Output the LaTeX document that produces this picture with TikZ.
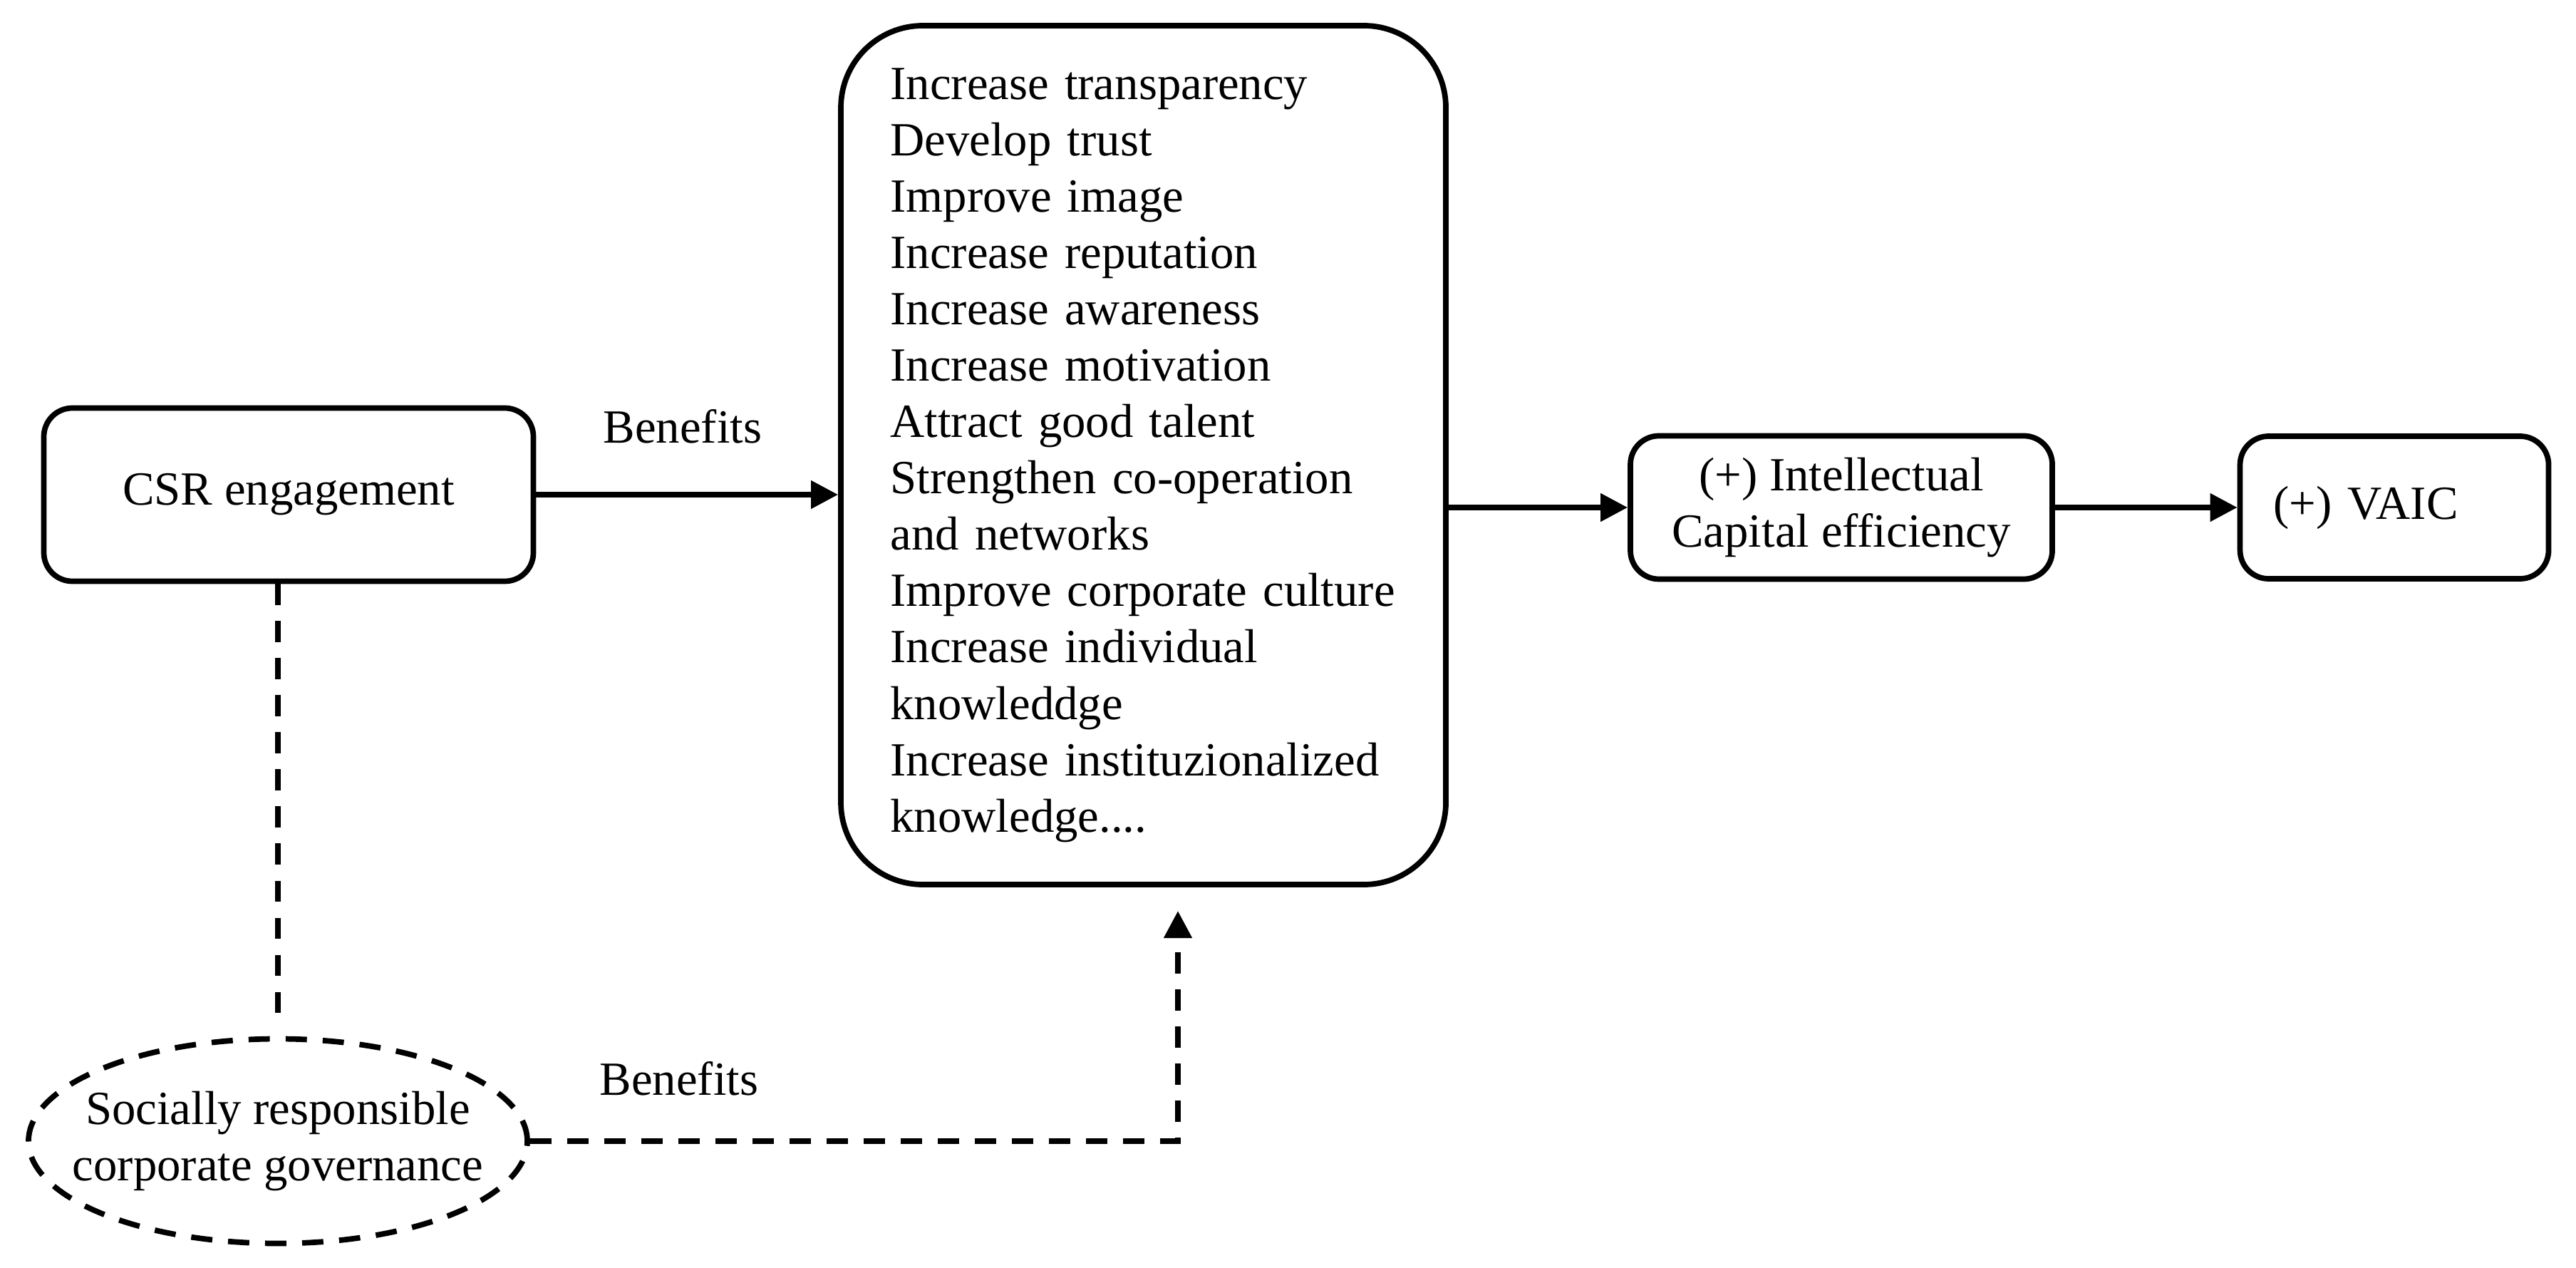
\documentclass[tikz,border=0pt]{standalone}
\usepackage{fontspec}
\setmainfont{Liberation Serif}
\usetikzlibrary{arrows.meta, shapes}
\usetikzlibrary{positioning}

\begin{document}
\begin{tikzpicture}[->,>={Triangle[length=3.8mm,width=3.8mm]},line width=2.2pt,
	font=\fontsize{19}{22.5}\selectfont,
	main node/.style={rectangle,draw,rounded corners=0.4cm,minimum width=6.87cm,minimum height=2.43cm,align=center},
	list node/.style={rectangle,draw,rounded corners=1.15cm,minimum width=8.49cm,minimum height=12.05cm,text width=7.1cm,align=left},
	gov node/.style={ellipse,draw,dash line,minimum width=7cm,minimum height=2.87cm},
	dash line/.style={dash pattern=on 8.5pt off 6.3pt}]
	
	\useasboundingbox (0,0) rectangle (36.15,-17.79);
	
	% Definición de los nodos
	\node[main node] (csr) at (4.05,-6.94) {CSR engagement};
	\node[list node] (benefits) at (16.045,-6.385) {Increase transparency\\Develop trust\\Improve image\\Increase reputation\\Increase awareness\\Increase motivation\\Attract good talent\\Strengthen co-operation\\and networks\\Improve corporate culture\\Increase individual\\knowleddge\\Increase instituzionalized\\knowledge....};
	\node[main node,minimum width=5.92cm,minimum height=2.01cm] (ic) at (25.84,-7.12) {(+) Intellectual\\Capital efficiency};
	\node[main node,minimum width=4.33cm,minimum height=2cm,text width=3.39cm,inner xsep=0.47cm,align=left] (vaic) at (33.6,-7.12) {(+) VAIC};
	\node[gov node,label={[align=center]center:Socially responsible\\corporate governance}] (gov) at (3.9,-16.01) {};
	
	% Etiquetas
	\node (lbl1) at (9.58,-5.98) {Benefits};
	\node (lbl2) at (9.53,-15.13) {Benefits};
	\coordinate (tip) at (16.53,-12.78);
	
	% Conexiones
	\draw (csr.east) -- (csr.east -| benefits.west);
	\draw (benefits.east |- ic.west) -- (ic.west);
	\draw (ic.east) -- (vaic.west);
	% Gobierno corporativo
	\draw[dash line,-] (gov.north |- csr.south) -- ([yshift=0.3cm]gov.north);
	\draw[dash line] (gov.east) -| (tip);
\end{tikzpicture}
\end{document}
